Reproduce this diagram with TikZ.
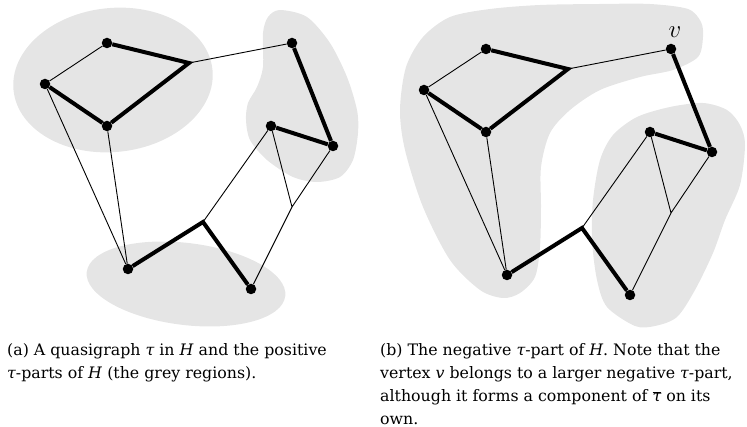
\documentclass[tikz,border=0pt]{standalone}
\usepackage{fontspec}
\newfontfamily\capfont{DejaVu Serif}
\newcommand\captau{{\itshape τ}}
\begin{document}
\begin{tikzpicture}[x=1pt,y=-1pt,
  region/.style={fill=black!10},
  vtx/.style={circle,fill=black,inner sep=0pt,minimum size=10.5pt},
  thk/.style={line width=4pt},
  thn/.style={line width=0.9pt},
  captext/.style={anchor=base west,inner sep=0pt,font=\capfont\fontsize{15.8}{23}\selectfont},
  qgraph/.pic={
    \node[vtx] (-a) at (107,43) {};
    \coordinate (-b) at (189,63);
    \node[vtx] (-c) at (45,84) {};
    \node[vtx] (-d) at (107,126) {};
    \node[vtx] (-e) at (292,43) {};
    \node[vtx] (-f) at (271,126) {};
    \node[vtx] (-g) at (333,146) {};
    \coordinate (-h) at (292,207);
    \coordinate (-i) at (203,222);
    \node[vtx] (-j) at (128,269) {};
    \node[vtx] (-k) at (251,289) {};
    \draw[thn] (-a) -- (-c) (-b) -- (-e) (-c) -- (-j) (-d) -- (-j)
               (-f) -- (-i) (-f) -- (-h) (-g) -- (-h) -- (-k);
    \draw[thk] (-a) -- (-b) -- (-d) (-c) -- (-d) (-e) -- (-g) -- (-f)
               (-j) -- (-i) -- (-k);
  }]
\useasboundingbox (0,0) rectangle (747,427);
% (a) positive tau-parts
\fill[region, rotate around={6:(113,80)}] (113,80) ellipse [x radius=100pt, y radius=72pt];
\fill[region, rotate around={-7:(186,284)}] (186,284) ellipse [x radius=100pt, y radius=41pt];
\fill[region] plot[smooth cycle] coordinates {(280,10) (307,17) (330,43) (347,77) (357,110) (358,133) (353,160) (340,177) (317,182) (293,177) (267,160) (250,140) (246,120) (248,103) (257,87) (263,67) (263,33) (268,17)};
% (b) negative tau-part
\fill[region] plot[smooth cycle] coordinates {(450,17) (490,9) (540,5) (600,4) (650,4) (688,9) (701,22) (703,37) (698,57) (673,70) (640,77) (600,90) (570,110) (550,133) (541,167) (541,207) (540,247) (535,277) (520,293) (503,298) (480,290) (450,260) (423,207) (405,150) (400,110) (406,67) (423,37)};
\fill[region] plot[smooth cycle] coordinates {(703,103) (727,110) (740,125) (745,145) (740,185) (725,220) (713,253) (695,290) (677,317) (655,326) (635,326) (607,307) (597,280) (592,240) (593,200) (600,160) (613,135) (637,117) (670,107)};
% graphs
\pic (L) at (0,0) {qgraph};
\pic (R) at (379,6) {qgraph};
\node[anchor=base,inner sep=0pt,font=\fontsize{24}{24}\selectfont] (vlabel) at (675,37.3) {$v$};
% captions
\node[captext] (capa1) at (7,355.5) {(a) A quasigraph \captau{} in \textit{H} and the positive};
\node[captext] (capa2) at (7,378.5) {\captau-parts of \textit{H} (the grey regions).};
\node[captext] (capb1) at (380,355.5) {(b) The negative \captau-part of \textit{H}. Note that the};
\node[captext] (capb2) at (380,378.5) {vertex \textit{v} belongs to a larger negative \captau-part,};
\node[captext] (capb3) at (380,401.5) {although it forms a component of $\overline{\hbox{\captau}}$ on its};
\node[captext] (capb4) at (380,424.5) {own.};
\end{tikzpicture}
\end{document}
